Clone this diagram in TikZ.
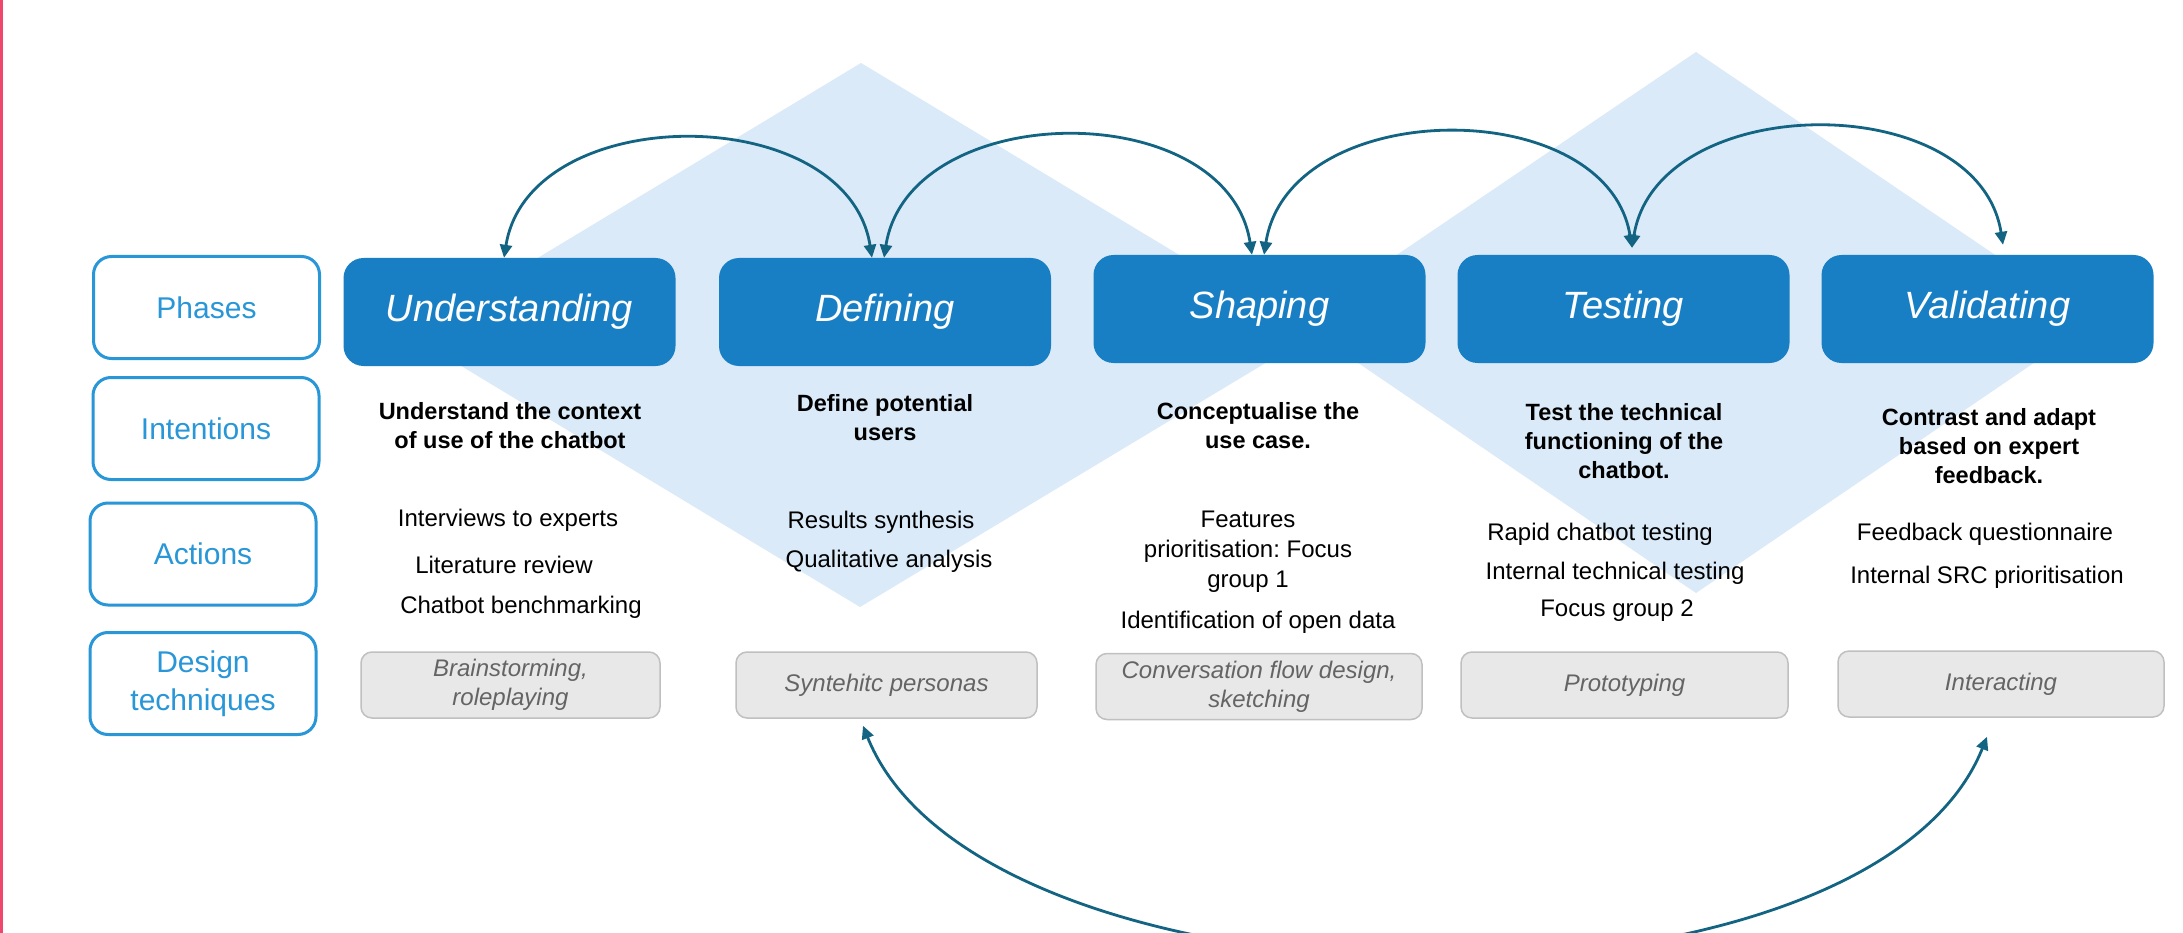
\documentclass[tikz,border=0pt]{standalone}
\usepackage{fontspec}
\setmainfont{Liberation Sans}
\usetikzlibrary{arrows.meta}
\definecolor{phaseblue}{RGB}{24,127,196}
\definecolor{labelblue}{RGB}{40,150,215}
\definecolor{diamondblue}{RGB}{218,234,248}
\definecolor{arcteal}{RGB}{18,100,130}
\definecolor{techfill}{RGB}{232,232,232}
\definecolor{techdraw}{RGB}{192,192,192}
\definecolor{techtext}{RGB}{100,100,100}
\definecolor{edgepink}{RGB}{240,70,110}
\frenchspacing
\begin{document}
\begin{tikzpicture}[x=1pt,y=-1pt,
  labelbox/.style={draw=labelblue, line width=3pt, fill=white, rounded corners=18pt,
    minimum width=226pt, minimum height=102pt, text=labelblue,
    font=\fontsize{30}{38}\selectfont, align=center, inner sep=0pt},
  phasebox/.style={fill=phaseblue, rounded corners=20pt, minimum width=332pt,
    minimum height=108pt, text=white, font=\fontsize{38}{44}\selectfont\itshape, inner sep=0pt},
  intent/.style={font=\fontsize{23.5}{29}\selectfont\bfseries, align=center, inner sep=0pt},
  act/.style={font=\fontsize{24}{30}\selectfont, align=center, inner sep=0pt},
  techbox/.style={fill=techfill, draw=techdraw, line width=1.5pt, rounded corners=11pt,
    minimum height=66pt, text=techtext, font=\fontsize{24}{29}\selectfont\itshape,
    align=center, inner sep=0pt},
  cyclearc/.style={draw=arcteal, line width=2.8pt,
    {Triangle[length=13pt,width=12pt]}-{Triangle[length=13pt,width=12pt]}},
]
\useasboundingbox (0,0) rectangle (2183,933);
\clip (0,0) rectangle (2183,933);
\fill[white] (0,0) rectangle (2183,933);
\fill[edgepink] (0,0) rectangle (2.5,933);

% background diamonds
\fill[diamondblue] (861,63) -- (1312,335) -- (860,607) -- (410,335) -- cycle;
\fill[diamondblue] (1696,52) -- (2094,322) -- (1696,593) -- (1298,322) -- cycle;

% row labels
\node[labelbox] (lphases) at (206.5,307.5) {Phases};
\node[labelbox] (lintent) at (206,428.5) {Intentions};
\node[labelbox] (lactions) at (203,554) {Actions};
\node[labelbox] (ldesign) at (203,683.5) {Design\\techniques};

% phases
\node[phasebox] (und) at (509.5,312) {Understanding};
\node[phasebox] (def) at (885,312) {Defining};
\node[phasebox] (sha) at (1259.5,309) {Shaping};
\node[phasebox] (tes) at (1623.5,309) {Testing};
\node[phasebox] (val) at (1987.5,309) {Validating};

% intentions
\node[intent] (iund) at (510,426) {Understand the context\\of use of the chatbot};
\node[intent] (idef) at (885,418) {Define potential\\users};
\node[intent] (isha) at (1258,426) {Conceptualise the\\use case.};
\node[intent] (ites) at (1624,441) {Test the technical\\functioning of the\\chatbot.};
\node[intent] (ival) at (1989,446.5) {Contrast and adapt\\based on expert\\feedback.};

% actions
\node[act] (aund1) at (508,520) {Interviews to experts};
\node[act] (aund2) at (504,565) {Literature review};
\node[act] (aund3) at (521,607) {Chatbot benchmarking};
\node[act] (adef1) at (881,522) {Results synthesis};
\node[act] (adef2) at (889,561) {Qualitative analysis};
\node[act] (asha1) at (1248,552) {Features\\prioritisation: Focus\\group 1};
\node[act] (asha2) at (1258,622) {Identification of open data};
\node[act] (ates1) at (1600,534) {Rapid chatbot testing};
\node[act] (ates2) at (1615,573) {Internal technical testing};
\node[act] (ates3) at (1617,611) {Focus group 2};
\node[act] (aval1) at (1985,534) {Feedback questionnaire};
\node[act] (aval2) at (1987,577) {Internal SRC prioritisation};

% design techniques
\node[techbox, minimum width=299pt] (tund) at (510.5,685) {Brainstorming,\\roleplaying};
\node[techbox, minimum width=301pt] (tdef) at (886.5,685) {Syntehitc personas};
\node[techbox, minimum width=326pt] (tsha) at (1259,686.5) {Conversation flow design,\\sketching};
\node[techbox, minimum width=327pt] (ttes) at (1624.5,685) {Prototyping};
\node[techbox, minimum width=326pt] (tval) at (2001,684) {Interacting};

% iteration arcs
\draw[cyclearc] ([xshift=-5.5pt]und.north) .. controls +(25,-158) and +(-25,-158) .. ([xshift=-13pt]def.north);
\draw[cyclearc] ([xshift=-1pt]def.north) .. controls +(25,-160) and +(-25,-160) .. ([xshift=-7.5pt]sha.north);
\draw[cyclearc] ([xshift=4.5pt]sha.north) .. controls +(25,-160) and +(-25,-155) .. ([xshift=8.5pt,yshift=7pt]tes.north);
\draw[cyclearc] ([xshift=8.5pt,yshift=7pt]tes.north) .. controls +(25,-158) and +(-25,-158) .. ([xshift=15.5pt,yshift=10pt]val.north);
\draw[cyclearc] ([xshift=-23.5pt,yshift=-7pt]tdef.south) .. controls +(120,300) and +(-120,300) .. ([xshift=-14pt,yshift=-19pt]tval.south);
\end{tikzpicture}
\end{document}
